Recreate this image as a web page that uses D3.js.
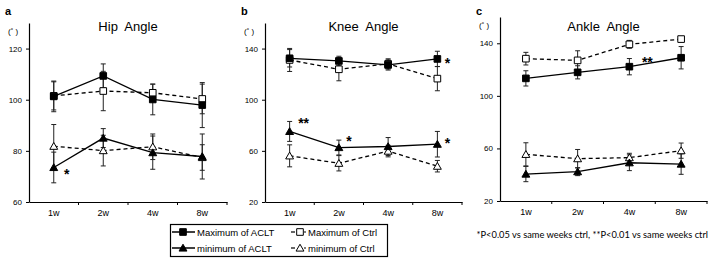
<!DOCTYPE html>
<html><head><meta charset="utf-8">
<script src="https://cdn.jsdelivr.net/npm/d3@7"></script>
<style>body{margin:0;background:#fff}svg{display:block}text{font-family:"Liberation Sans",Arial,sans-serif}</style>
</head><body><svg id="c" width="711" height="259"></svg>
<script>
const categories = ["1w","2w","4w","8w"];
const seriesNames = ["Maximum of ACLT","Maximum of Ctrl","minimum of ACLT","minimum of Ctrl"];
const panelTitles = ["Hip  Angle","Knee  Angle","Ankle  Angle"];
const panelLetters = ["a","b","c"];

// Hip
const hipMaxACLT = [101.3,109.3,100.1,97.9], hipMaxACLTErr = [6,4.7,6,8.8];
const hipMaxCtrl = [101.5,103.4,102.7,100.3], hipMaxCtrlErr = [5.5,7.7,3.4,5.8];
const hipMinACLT = [73.5,85,79.3,77.8], hipMinACLTErr = [6,3.7,6.5,8.8];
const hipMinCtrl = [81.8,80.1,81.6,77.4], hipMinCtrlErr = [8.5,6,5,5];
// Knee
const kneeMaxACLT = [132.4,130.3,127.2,131.9], kneeMaxACLTErr = [6.8,3.7,4,6];
const kneeMaxCtrl = [131.1,123.8,128,116.5], kneeMaxCtrlErr = [9,9,4,9.5];
const kneeMinACLT = [75.2,62.6,63.4,65.2], kneeMinACLTErr = [7.8,5.8,7,10];
const kneeMinCtrl = [56.1,50.3,59.8,48], kneeMinCtrlErr = [8.6,6,4.5,4.5];
// Ankle
const ankleMaxACLT = [113.3,117.9,122.2,129], ankleMaxACLTErr = [5.8,5,6.2,8.5];
const ankleMaxCtrl = [128.3,127,139.2,143.2], ankleMaxCtrlErr = [4.8,7.3,3,2];
const ankleMinACLT = [40.5,42.3,49.1,48.1], ankleMinACLTErr = [5.8,3,6,7.8];
const ankleMinCtrl = [55.5,52.2,53,58.3], ankleMinCtrlErr = [8.8,7,3.3,5.8];

const hipTicks = [60,80,100,120], kneeTicks = [20,60,100,140], ankleTicks = [20,60,100,140];
const hipDomain = [60,130], kneeDomain = [20,160], ankleDomain = [20,160];

// significance marks: [seriesIndex, categoryIndex, label]
const hipStars = [[2,0,"*"]];
const kneeStars = [[0,3,"*"],[2,0,"**"],[2,1,"*"],[2,3,"*"]];
const ankleStars = [[0,2,"**"]];

const footnote = "*P<0.05 vs same weeks ctrl, **P<0.01 vs same weeks ctrl";

const panels = [
  {x0:29,x1:227,yTop:23,yBot:202,domain:hipDomain,ticks:hipTicks,
   series:[[hipMaxACLT,hipMaxACLTErr],[hipMaxCtrl,hipMaxCtrlErr],[hipMinACLT,hipMinACLTErr],[hipMinCtrl,hipMinCtrlErr]],
   stars:hipStars},
  {x0:265,x1:462,yTop:23,yBot:202,domain:kneeDomain,ticks:kneeTicks,
   series:[[kneeMaxACLT,kneeMaxACLTErr],[kneeMaxCtrl,kneeMaxCtrlErr],[kneeMinACLT,kneeMinACLTErr],[kneeMinCtrl,kneeMinCtrlErr]],
   stars:kneeStars},
  {x0:500,x1:707,yTop:17,yBot:201,domain:ankleDomain,ticks:ankleTicks,
   series:[[ankleMaxACLT,ankleMaxACLTErr],[ankleMaxCtrl,ankleMaxCtrlErr],[ankleMinACLT,ankleMinACLTErr],[ankleMinCtrl,ankleMinCtrlErr]],
   stars:ankleStars}
];
const starOffsets = [
  [[13,5]],
  [[10,2],[14,-10],[10,-9],[10,-3]],
  [[18,-7]]
];

const svg = d3.select("#c");
const styles = [
  {fill:"#000",dash:null},
  {fill:"#fff",dash:"4,3"},
  {fill:"#000",dash:null},
  {fill:"#fff",dash:"4,3"}
];
const shapes = [d3.symbolSquare,d3.symbolSquare,d3.symbolTriangle,d3.symbolTriangle];
const sizes = [44,44,27,27];

function drawMarker(g, i, cx, cy){
  g.append("path").attr("d", d3.symbol().type(shapes[i]).size(sizes[i])())
    .attr("transform",`translate(${cx},${cy + (i>=2?0.8:0)})`)
    .attr("fill", styles[i].fill).attr("stroke","#000").attr("stroke-width",1);
}

panels.forEach((p, pi) => {
  const g = svg.append("g");
  const x = d3.scaleBand().domain(categories).range([p.x0,p.x1]).padding(0);
  const y = d3.scaleLinear().domain(p.domain).range([p.yBot,p.yTop]);
  const cx = c => x(c) + x.bandwidth()/2;

  const ya = g.append("g").attr("transform",`translate(${p.x0},0)`)
    .call(d3.axisLeft(y).tickValues(p.ticks).tickSize(3).tickSizeOuter(0).tickPadding(4));
  ya.select(".domain").attr("stroke","#000").attr("stroke-width",1.2);
  ya.selectAll(".tick line").attr("stroke","#000");
  ya.selectAll("text").attr("font-size",8).attr("fill","#000").style("font-family","Liberation Sans, Arial");

  const xa = g.append("g").attr("transform",`translate(0,${p.yBot})`)
    .call(d3.axisBottom(x).tickSize(0).tickPadding(8));
  xa.select(".domain").attr("stroke","#000").attr("stroke-width",1.2);
  xa.selectAll("text").attr("font-size",9).attr("fill","#000").style("font-family","Liberation Sans, Arial");
  const bounds = categories.map(c => x(c)).concat([p.x1]).slice(1);
  g.selectAll(".bt").data(bounds).enter().append("line")
    .attr("x1",d=>d).attr("x2",d=>d).attr("y1",p.yBot).attr("y2",p.yBot+3)
    .attr("stroke","#000").attr("stroke-width",1);

  g.append("text").attr("x",p.x0-21).attr("y",p.yTop+11).attr("font-size",8)
    .attr("fill","#000").text("(˚ )");
  g.append("text").attr("x",p.x0-24).attr("y",15).attr("font-size",11)
    .attr("font-weight","bold").attr("fill","#000").text(panelLetters[pi]);
  g.append("text").attr("x",(p.x0+p.x1)/2).attr("y",31).attr("text-anchor","middle")
    .attr("font-size",13).attr("fill","#000").style("white-space","pre").text(panelTitles[pi]);

  p.series.forEach(([vals, errs], si) => {
    categories.forEach((c,ci) => {
      const xc = cx(c), v = vals[ci], e = errs[ci];
      g.append("line").attr("x1",xc).attr("x2",xc).attr("y1",y(v-e)).attr("y2",y(v+e))
        .attr("stroke","#222").attr("stroke-width",1);
      [v-e, v+e].forEach(t => g.append("line").attr("x1",xc-2.5).attr("x2",xc+2.5)
        .attr("y1",y(t)).attr("y2",y(t)).attr("stroke","#222").attr("stroke-width",1));
    });
  });
  const line = d3.line().x((d,i)=>cx(categories[i])).y(d=>y(d));
  [1,3,0,2].forEach(si => {
    g.append("path").attr("d", line(p.series[si][0])).attr("fill","none")
      .attr("stroke","#000").attr("stroke-width",1.3)
      .attr("stroke-dasharray", styles[si].dash);
  });
  [1,3,0,2].forEach(si => {
    p.series[si][0].forEach((v,ci) => drawMarker(g, si, cx(categories[ci]), y(v)));
  });
  p.stars.forEach(([si,ci,lab],k) => {
    const [dx,dy] = starOffsets[pi][k];
    g.append("text").attr("x",cx(categories[ci])+dx).attr("y",y(p.series[si][0][ci])+dy+7)
      .attr("text-anchor","middle").attr("font-size",14).attr("font-weight","bold")
      .attr("fill","#000").text(lab);
  });
});

// legend
const lg = svg.append("g");
lg.append("rect").attr("x",170.5).attr("y",224.5).attr("width",217).attr("height",32)
  .attr("fill","#fff").attr("stroke","#000").attr("stroke-width",1.2);
const legRows = [232, 248];
const legCols = [172, 290];
seriesNames.forEach((name, i) => {
  const row = legRows[i>=2?1:0];
  const col = i%2===0 ? 0 : 1;
  const lx = legCols[col];
  if (col===0) {
    lg.append("line").attr("x1",lx).attr("x2",lx+23).attr("y1",row).attr("y2",row)
      .attr("stroke","#000").attr("stroke-width",1.5);
    drawMarker(lg, i, lx+11, row);
    lg.append("text").attr("x",lx+25).attr("y",row+3.5).attr("font-size",9.5).attr("fill","#000").text(name);
  } else {
    lg.append("line").attr("x1",lx+1).attr("x2",lx+5).attr("y1",row).attr("y2",row)
      .attr("stroke","#000").attr("stroke-width",1.2);
    lg.append("line").attr("x1",lx+14).attr("x2",lx+16).attr("y1",row).attr("y2",row)
      .attr("stroke","#000").attr("stroke-width",1.2);
    drawMarker(lg, i, lx+10, row);
    lg.append("text").attr("x",lx+18).attr("y",row+3.5).attr("font-size",9.5).attr("fill","#000").text(name);
  }
});

svg.append("text").attr("x",708).attr("y",238).attr("text-anchor","end")
  .attr("font-size",9.3).attr("fill","#000").style("font-family","Lato, 'Open Sans', sans-serif")
  .text(footnote);
</script></body></html>
